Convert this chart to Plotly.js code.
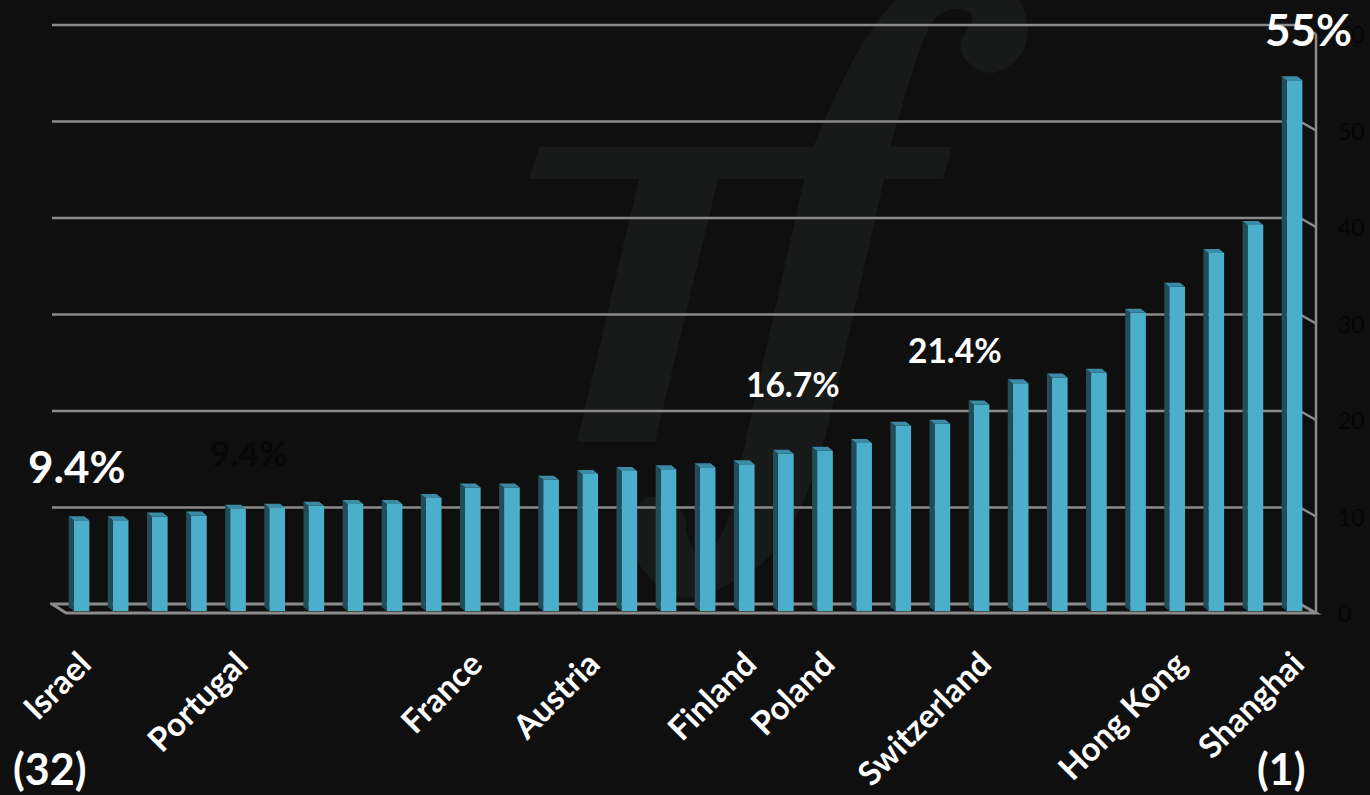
<!DOCTYPE html>
<html>
<head>
<meta charset="utf-8">
<script src="https://cdn.plot.ly/plotly-3.0.1.min.js"></script>
<style>html,body{margin:0;padding:0;background:#0f0f10;overflow:hidden}</style>
</head>
<body>
<div id="chart" style="width:1370px;height:795px"></div>
<script>
// Data: bars ordered from rank 32 (left) to rank 1 (right)
const ranks = [32,31,30,29,28,27,26,25,24,23,22,21,20,19,18,17,16,15,14,13,12,11,10,9,8,7,6,5,4,3,2,1];
const values = [9.4,9.4,9.8,9.9,10.6,10.7,10.9,11.1,11.1,11.7,12.8,12.8,13.6,14.2,14.5,14.7,14.9,15.2,16.3,16.6,17.4,19.2,19.4,21.4,23.6,24.2,24.7,30.9,33.6,37.1,40.0,55.0];
const labelledIndex = [0,4,10,13,17,19,23,28,31];
const labelledNames = ['Israel','Portugal','France','Austria','Finland','Poland','Switzerland','Hong Kong','Shanghai'];
const yTicks = [0,10,20,30,40,50,60];

const W=1370,H=795, L=50,R=1326,T=20,B=620;
const x0=81.5, dx=39.13, yz=611, dy=9.65;           // pixel scale of the front plane
const xr=[(L-x0)/dx,(R-x0)/dx], yr=[(yz-B)/dy,(yz-T)/dy];
const idx=ranks.map((_,i)=>i);
const bw=15.7/dx, dX=5/dx, dY=4/dy;                 // bar width and 3-D depth in axis units
const backY=7/dy, wallX=(1316-x0)/dx, backX=(1300-x0)/dx, leftX=(52-x0)/dx, floorLX=(66-x0)/dx, frontY=-2/dy;
const px=x=>(x-L)/(R-L), py=y=>(B-y)/(B-T);

// 3-D faces derived from the values
const sx=[],sy=[],tx=[],ty=[];
values.forEach((v,i)=>{
  const l=i-bw/2,r=i+bw/2;
  sx.push(l,l,l-dX,l-dX,l,null); sy.push(0,v,v+dY,dY,0,null);
  tx.push(l,r,r-dX,l-dX,l,null); ty.push(v,v,v+dY,v+dY,v,null);
});

const gridColor='#8b8b8b';
const shapes=[];
// Watermark "Tf"
const wmParts=['M539 147 L952 147 L943 179 L529 179 Z',
 'M639 179 L718 179 L655 442 L577 442 Z',
 'M814 145 C835 95 860 35 900 -5 L1014 -5 C1035 15 1035 62 993 73 C970 73 955 50 962 38 C968 28 975 20 971 13 C955 5 940 10 930 25 C918 50 905 95 891 145 L884 180 L829 421 C815 480 790 560 732 582 C710 595 690 600 679 597 C650 585 630 560 632 536 C634 510 640 497 650 497 C670 497 688 510 686 528 C690 545 695 555 700 555 C715 550 725 530 729 517 L750 421 L804 180 Z'];
wmParts.forEach(p=>shapes.push({type:'path',xref:'paper',yref:'paper',layer:'below',fillcolor:'#181919',line:{width:0},
  path:p.replace(/(-?\d+) (-?\d+)/g,(m,a,b)=>px(+a).toFixed(5)+' '+py(+b).toFixed(5))}));
// Back-wall gridlines with the return to the side wall
yTicks.forEach(v=>{
  if(v===0) return;
  shapes.push({type:'path',xref:'x',yref:'y',layer:'below',line:{color:gridColor,width:2.5},
    path:`M${leftX} ${v+backY} L${backX} ${v+backY} L${wallX} ${v+frontY}`});
});
// Floor
shapes.push({type:'path',xref:'x',yref:'y',layer:'below',line:{color:gridColor,width:3},
  path:`M${leftX} ${backY} L${backX} ${backY} L${wallX} ${frontY} L${floorLX} ${frontY} Z`});
// Side wall
shapes.push({type:'line',xref:'x',yref:'y',layer:'below',line:{color:gridColor,width:2.5},
  x0:wallX,x1:wallX,y0:frontY,y1:60+frontY});

const font='Lato, "Open Sans", sans-serif';
const notes=[
  ['9.4%',77,466,44,'#ffffff'],
  ['9.4%',249,452,35,'#080808'],
  ['16.7%',793,384,33.5,'#ffffff'],
  ['21.4%',955,350,33.5,'#ffffff'],
  ['55%',1308,29,44,'#ffffff'],
  ['(32)',50,768,43,'#ffffff'],
  ['(1)',1281,768,43,'#ffffff']
];
const annotations=notes.map(n=>({xref:'paper',yref:'paper',x:px(n[1]),y:py(n[2]),text:'<b>'+n[0]+'</b>',
  showarrow:false,xanchor:'center',yanchor:'middle',font:{family:font,size:n[3],color:n[4]}}));

const data=[
 {type:'scatter',mode:'lines',x:sx,y:sy,fill:'toself',fillcolor:'#214c59',line:{width:0},hoverinfo:'skip',showlegend:false},
 {type:'scatter',mode:'lines',x:tx,y:ty,fill:'toself',fillcolor:'#3a8ba3',line:{width:0},hoverinfo:'skip',showlegend:false},
 {type:'bar',x:idx,y:values,width:bw,marker:{color:'#4bafcc',line:{width:0}},showlegend:false}
];
const layout={
  width:W,height:H,paper_bgcolor:'#0f0f10',plot_bgcolor:'rgba(0,0,0,0)',showlegend:false,
  margin:{l:L,r:W-R,t:T,b:H-B,pad:0},
  xaxis:{range:xr,showgrid:false,zeroline:false,showline:false,ticks:'',tickmode:'array',
    tickvals:labelledIndex,ticktext:labelledNames,tickangle:-45,ticklabelstandoff:17,
    tickfont:{family:font,size:33,color:'#ffffff',weight:700}},
  yaxis:{range:yr,side:'right',showgrid:false,zeroline:false,showline:false,ticks:'',tickmode:'array',
    tickvals:yTicks,ticktext:yTicks.map(String),ticklabelstandoff:11,ticklabelshift:3,
    tickfont:{family:font,size:23,color:'#060606'}},
  shapes,annotations
};
Plotly.newPlot('chart',data,layout,{staticPlot:true});
</script>
</body>
</html>
